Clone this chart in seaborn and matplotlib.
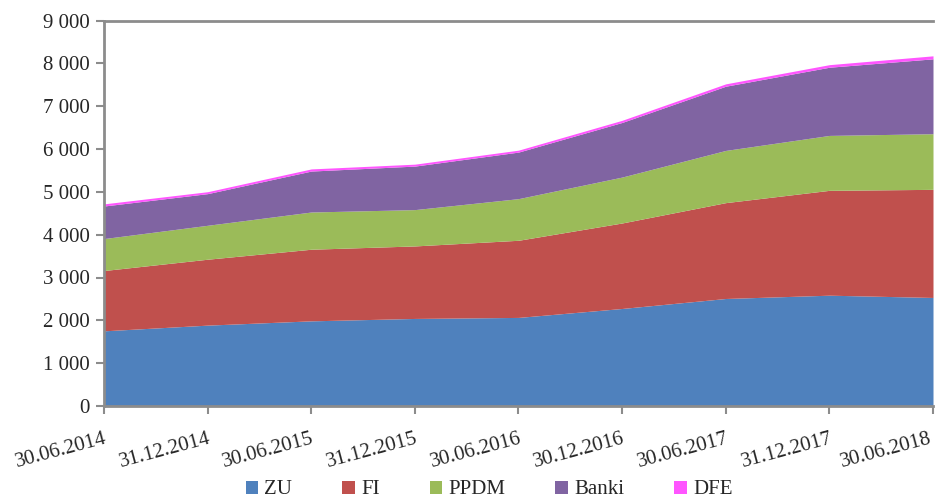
import numpy as np
import pandas as pd
import matplotlib
matplotlib.use("Agg")
import matplotlib.pyplot as plt
import seaborn as sns
from matplotlib.patches import Patch
from matplotlib.transforms import ScaledTranslation

dates = ["30.06.2014", "31.12.2014", "30.06.2015", "31.12.2015", "30.06.2016",
         "30.12.2016", "30.06.2017", "31.12.2017", "30.06.2018"]
zu = [1755, 1888, 1988, 2044, 2068, 2277, 2510, 2587, 2534]
fi = [1408, 1539, 1672, 1693, 1801, 1996, 2238, 2448, 2524]
ppdm = [746, 792, 869, 848, 972, 1072, 1219, 1282, 1299]
banki = [760, 739, 956, 1016, 1087, 1275, 1499, 1592, 1748]
dfe = [50, 45, 50, 45, 45, 50, 55, 60, 70]
series_names = ["ZU", "FI", "PPDM", "Banki", "DFE"]
colors = ["#4F81BD", "#C0504D", "#9BBB59", "#8064A2", "#FF55FF"]
yticks = list(range(0, 9001, 1000))

df = pd.DataFrame({"date": dates, "ZU": zu, "FI": fi, "PPDM": ppdm,
                   "Banki": banki, "DFE": dfe})

sns.set_theme(style="white")
plt.rcParams["font.family"] = ["Liberation Serif", "DejaVu Serif"]

fig = plt.figure(figsize=(9.37, 4.99), dpi=100)
ax = fig.add_axes([104 / 937, 1 - 406 / 499, (933 - 104) / 937, (406 - 20.5) / 499])

x = np.arange(len(df))
ax.stackplot(x, *[df[n].values for n in series_names], colors=colors,
             linewidth=0, labels=series_names)

ax.set_xlim(0, len(df) - 1)
ax.set_ylim(0, 9000)
ax.set_yticks(yticks)
ax.set_yticklabels([f"{v:,}".replace(",", " ") for v in yticks], fontsize=15)
ax.set_xticks(x)
ax.set_xticklabels(df["date"], fontsize=15, rotation=15, ha="right",
                   rotation_mode="anchor")

spine_c = "#8C8C8C"
ax.spines["right"].set_visible(False)
for s in ["left", "bottom", "top"]:
    ax.spines[s].set_color(spine_c)
    ax.spines[s].set_linewidth(2)
ax.tick_params(axis="both", direction="out", length=5.5, width=1.5,
               color=spine_c, left=True, bottom=True)
ax.tick_params(axis="y", pad=5)
ax.tick_params(axis="x", pad=11)
ax.grid(False)

# keep the last rotated date label inside the figure
fig.canvas.draw()
last = ax.get_xticklabels()[-1]
last.set_transform(last.get_transform() + ScaledTranslation(-4 / 100, 0, fig.dpi_scale_trans))

handles = [Patch(facecolor=c, edgecolor="none") for c in colors]
fig.legend(handles, series_names, loc="center", bbox_to_anchor=(489 / 937, 1 - 490 / 499),
           ncol=5, frameon=False, fontsize=15, handlelength=0.6, handleheight=0.6,
           columnspacing=2.4, handletextpad=0.3)

fig.savefig("out.png", dpi=100)
